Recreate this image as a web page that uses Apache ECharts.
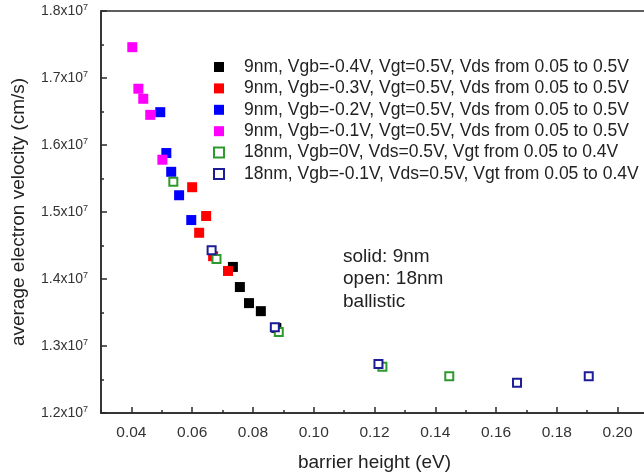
<!DOCTYPE html>
<html>
<head>
<meta charset="utf-8">
<script src="https://cdn.jsdelivr.net/npm/echarts@6/dist/echarts.min.js"></script>
<style>
  html, body { margin: 0; padding: 0; background: #fff; }
  #chart { width: 644px; height: 476px; }
</style>
</head>
<body>
<div id="chart"></div>
<script>
// Barrier height (eV) and average electron velocity (cm/s) for each bias sweep
const black9nmX  = [0.0734, 0.0757, 0.0787, 0.0826, 0.0877];
const black9nmY  = [1.418e7, 1.388e7, 1.364e7, 1.352e7, 1.327e7];
const red9nmX    = [0.0600, 0.0623, 0.0646, 0.0669, 0.0718];
const red9nmY    = [1.537e7, 1.469e7, 1.494e7, 1.434e7, 1.412e7];
const blue9nmX   = [0.0495, 0.0515, 0.0531, 0.0557, 0.0597];
const blue9nmY   = [1.649e7, 1.588e7, 1.560e7, 1.525e7, 1.488e7];
const pink9nmX   = [0.0403, 0.0423, 0.0439, 0.0462, 0.0502];
const pink9nmY   = [1.746e7, 1.684e7, 1.669e7, 1.645e7, 1.578e7];
const green18nmX = [0.0538, 0.0680, 0.0885, 0.1226, 0.1446];
const green18nmY = [1.545e7, 1.430e7, 1.321e7, 1.269e7, 1.255e7];
const navy18nmX  = [0.0664, 0.0872, 0.1213, 0.1669, 0.1905];
const navy18nmY  = [1.443e7, 1.328e7, 1.273e7, 1.245e7, 1.255e7];

// Labelled and unlabelled tick positions on the barrier-height axis
const xMajorTicks = [0.04, 0.06, 0.08, 0.10, 0.12, 0.14, 0.16, 0.18, 0.20];
const xMinorTicks = [0.03, 0.05, 0.07, 0.09, 0.11, 0.13, 0.15, 0.17, 0.19];

const seriesNames = [
  '9nm, Vgb=-0.4V, Vgt=0.5V, Vds from 0.05 to 0.5V',
  '9nm, Vgb=-0.3V, Vgt=0.5V, Vds from 0.05 to 0.5V',
  '9nm, Vgb=-0.2V, Vgt=0.5V, Vds from 0.05 to 0.5V',
  '9nm, Vgb=-0.1V, Vgt=0.5V, Vds from 0.05 to 0.5V',
  '18nm, Vgb=0V, Vds=0.5V, Vgt from 0.05 to 0.4V',
  '18nm, Vgb=-0.1V, Vds=0.5V, Vgt from 0.05 to 0.4V'
];
const noteLines = ['solid: 9nm', 'open: 18nm', 'ballistic'];

const FONT = '"Liberation Sans", Arial, sans-serif';
const AXIS_COLOR = '#2a2a2a';
const zip = (xs, ys) => xs.map((x, i) => [x, ys[i]]);

function solid(name, xs, ys, color) {
  return {
    name, type: 'scatter', data: zip(xs, ys), symbol: 'rect', symbolSize: 10,
    itemStyle: { color, opacity: 1 }, z: 2
  };
}
function open(name, xs, ys, color) {
  return {
    name, type: 'scatter', data: zip(xs, ys), symbol: 'rect', symbolSize: 8,
    itemStyle: { color: '#ffffff', borderColor: color, borderWidth: 2, opacity: 1 }, z: 3
  };
}

const chart = echarts.init(document.getElementById('chart'), null, { renderer: 'canvas' });

chart.setOption({
  animation: false,
  backgroundColor: '#ffffff',
  grid: {
    left: 101, right: -4, top: 11, bottom: 63,
    containLabel: false, outerBoundsMode: 'none',
    show: true, borderColor: AXIS_COLOR, borderWidth: 1.5, backgroundColor: 'transparent'
  },
  legend: {
    orient: 'vertical', left: 213, top: 56.5, padding: 0,
    itemWidth: 10, itemHeight: 10, itemGap: 0.4,
    data: seriesNames,
    textStyle: { fontFamily: FONT, fontSize: 17.5, color: '#222', lineHeight: 21, padding: [0, 0, 0, 15] },
    selectedMode: false
  },
  xAxis: [{
    type: 'value', min: 0.03, max: 0.21,
    name: 'barrier height (eV)', nameLocation: 'middle', nameGap: 40,
    nameTextStyle: { fontFamily: FONT, fontSize: 19, color: '#222' },
    axisLine: { show: true, lineStyle: { color: AXIS_COLOR, width: 1.5 } },
    axisTick: { show: true, inside: true, length: 6, customValues: xMajorTicks,
                lineStyle: { color: AXIS_COLOR, width: 1.5 } },
    splitLine: { show: false },
    axisLabel: {
      fontFamily: FONT, fontSize: 15.5, color: '#333', margin: 12,
      customValues: xMajorTicks,
      formatter: v => v.toFixed(2)
    }
  }, {
    // unlabelled half-step ticks
    type: 'value', min: 0.03, max: 0.21, position: 'bottom', gridIndex: 0,
    axisLine: { show: false },
    axisTick: { show: true, inside: true, length: 3, customValues: xMinorTicks,
                lineStyle: { color: AXIS_COLOR, width: 1.5 } },
    axisLabel: { show: false },
    splitLine: { show: false }
  }],
  yAxis: {
    type: 'value', min: 1.2e7, max: 1.8e7, interval: 0.1e7,
    name: 'average electron velocity (cm/s)', nameLocation: 'middle', nameGap: 73,
    nameTextStyle: { fontFamily: FONT, fontSize: 19, color: '#222' },
    axisLine: { show: true, lineStyle: { color: AXIS_COLOR, width: 1.5 } },
    axisTick: { show: true, inside: true, length: 6, lineStyle: { color: AXIS_COLOR, width: 1.5 } },
    minorTick: { show: true, splitNumber: 2, length: 3, lineStyle: { color: AXIS_COLOR, width: 1.5 } },
    splitLine: { show: false },
    axisLabel: {
      fontFamily: FONT, fontSize: 14, color: '#333', margin: 13,
      formatter: v => '{m|' + (v / 1e7).toFixed(1) + 'x10}{e|7}',
      rich: {
        m: { fontFamily: FONT, fontSize: 14, color: '#333' },
        e: { fontFamily: FONT, fontSize: 9, color: '#333', verticalAlign: 'top', padding: [0, 0, 7, 0] }
      }
    }
  },
  graphic: noteLines.map((t, i) => ({
    type: 'text', left: 343, top: 247 + i * 22.5,
    style: { text: t, fontFamily: FONT, fontSize: 19, fill: '#222' }
  })),
  series: [
    solid(seriesNames[0], black9nmX, black9nmY, '#000000'),
    solid(seriesNames[1], red9nmX, red9nmY, '#ff0000'),
    solid(seriesNames[2], blue9nmX, blue9nmY, '#0000ff'),
    solid(seriesNames[3], pink9nmX, pink9nmY, '#ff00ff'),
    open(seriesNames[4], green18nmX, green18nmY, '#2e9a2e'),
    open(seriesNames[5], navy18nmX, navy18nmY, '#1c1c96')
  ]
});
</script>
</body>
</html>
